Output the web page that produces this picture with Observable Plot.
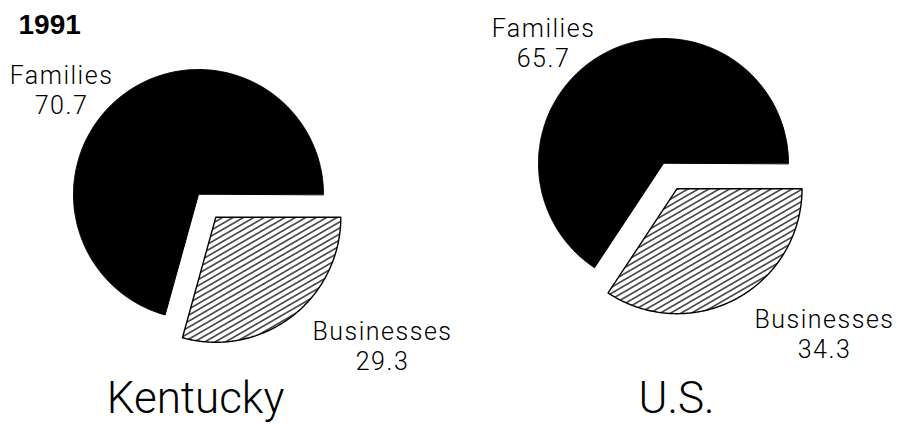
<!DOCTYPE html>
<html>
<head>
<meta charset="utf-8">
<script src="https://cdn.jsdelivr.net/npm/d3@7"></script>
<script src="https://cdn.jsdelivr.net/npm/@observablehq/plot@0.6"></script>
<style>
  html, body { margin: 0; padding: 0; background: #fff; }
</style>
</head>
<body>
<div id="chart"></div>
<script>
// ---- data ----
const year = "1991";
const regions = ["Kentucky", "U.S."];
const categories = ["Families", "Businesses"];
const families = [70.7, 65.7];
const businesses = [29.3, 34.3];

// ---- layout (pixels) ----
const W = 900, H = 424;
const pieCenters = [[198, 194], [663, 163]];
const pieRadius = 125;
const explodeOffset = 28.6;
// baseline of the value line (second line) of each slice label
const labelAnchors = {
  Families: [[61, 113], [543, 66]],
  Businesses: [[382, 369], [824, 357]]
};
const regionAnchors = [[195, 412], [676, 412]];

// ---- build slice outlines from the values ----
const slices = [];
regions.forEach((region, i) => {
  const [cx, cy] = pieCenters[i];
  const vals = { Families: families[i], Businesses: businesses[i] };
  const total = vals.Families + vals.Businesses;
  const bAng = vals.Businesses / total * 2 * Math.PI;
  const parts = [
    { category: "Businesses", a0: 0, a1: bAng, off: explodeOffset },
    { category: "Families", a0: bAng, a1: 2 * Math.PI, off: 0 }
  ];
  for (const p of parts) {
    const mid = (p.a0 + p.a1) / 2;
    const ox = cx + p.off * Math.cos(mid), oy = cy + p.off * Math.sin(mid);
    const key = region + "|" + p.category;
    slices.push({ key, category: p.category, x: ox, y: oy });
    const n = Math.ceil((p.a1 - p.a0) / (Math.PI / 360));
    for (let k = 0; k <= n; k++) {
      const a = p.a0 + (p.a1 - p.a0) * k / n;
      slices.push({ key, category: p.category, x: ox + pieRadius * Math.cos(a), y: oy + pieRadius * Math.sin(a) });
    }
  }
});

// ---- labels ----
const sliceLabels = [];
regions.forEach((region, i) => {
  const vals = { Families: families[i], Businesses: businesses[i] };
  for (const c of categories) {
    const [x, y] = labelAnchors[c][i];
    sliceLabels.push({ x, y, text: c + "\n" + vals[c].toFixed(1) });
  }
});
const regionLabels = regions.map((r, i) => ({ x: regionAnchors[i][0], y: regionAnchors[i][1], text: r }));
const titleLabel = [{ x: 18, y: 33, text: year }];

const labelFont = "Roboto, 'Liberation Sans', sans-serif";

const svg = Plot.plot({
  width: W,
  height: H,
  margin: 0,
  x: { domain: [0, W], range: [0, W], axis: null },
  y: { domain: [0, H], range: [0, H], axis: null },
  style: { background: "white", color: "black" },
  marks: [
    Plot.line(slices.filter(d => d.category === "Families"), {
      x: "x", y: "y", z: "key", fill: "black", stroke: "black", strokeWidth: 1, curve: "linear-closed"
    }),
    Plot.line(slices.filter(d => d.category === "Businesses"), {
      x: "x", y: "y", z: "key", fill: "url(#hatch)", stroke: "black", strokeWidth: 1.4, curve: "linear-closed"
    }),
    Plot.text(titleLabel, {
      x: "x", y: "y", text: "text", textAnchor: "start", lineAnchor: "bottom",
      fontSize: 28, fontWeight: "bold", fontFamily: "'Liberation Sans', Arial, sans-serif", fill: "black"
    }),
    Plot.text(sliceLabels, {
      x: "x", y: "y", text: "text", textAnchor: "middle", lineAnchor: "bottom", lineHeight: 1.18,
      fontSize: 25, fontWeight: 300, fontFamily: labelFont, fill: "black"
    }),
    Plot.text(regionLabels, {
      x: "x", y: "y", text: "text", textAnchor: "middle", lineAnchor: "bottom",
      fontSize: 44, fontWeight: 300, fontFamily: labelFont, fill: "black"
    })
  ]
});

// wide-set type for the slice labels, as in the reference
d3.select(svg).selectAll("g[aria-label='text']").each(function () {
  if (this.getAttribute("font-size") === "25") this.setAttribute("letter-spacing", "1.5");
});

// hatch pattern for the Businesses slices
const defs = d3.select(svg).insert("defs", ":first-child");
const pat = defs.append("pattern")
  .attr("id", "hatch")
  .attr("patternUnits", "userSpaceOnUse")
  .attr("width", 10)
  .attr("height", 5.2)
  .attr("patternTransform", "rotate(-30)");
pat.append("rect").attr("width", 10).attr("height", 5.2).attr("fill", "white");
pat.append("line")
  .attr("x1", 0).attr("x2", 10)
  .attr("y1", 2.6).attr("y2", 2.6)
  .attr("stroke", "black").attr("stroke-width", 1.2);

document.getElementById("chart").appendChild(svg);
</script>
</body>
</html>
